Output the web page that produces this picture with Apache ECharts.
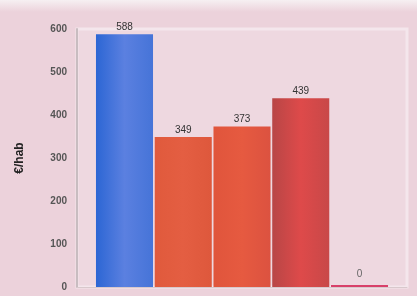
<!DOCTYPE html>
<html><head><meta charset="utf-8">
<script src="https://cdn.jsdelivr.net/npm/echarts@6/dist/echarts.min.js"></script>
<style>html,body{margin:0;padding:0;background:#ecd2db}#c{width:417px;height:296px}</style>
</head><body><div id="c"></div>
<script>
const categories = ['A'];
const values = [588, 349, 373, 439, 0];
const yTicks = [0, 100, 200, 300, 400, 500, 600];
const barColors = [
  ['#2c66d4', '#5b80e0', '#4674d8'],
  ['#e05a3c', '#e45e42', '#de583c'],
  ['#e0553c', '#e65a40', '#dc5240'],
  ['#b84646', '#de4a4a', '#c84848'],
  ['#d8406a', '#d8406a', '#d8406a']
];
function grad(c){return {type:'linear',x:0,y:0,x2:1,y2:0,colorStops:[{offset:0,color:c[0]},{offset:0.5,color:c[1]},{offset:1,color:c[2]}]};}
const chart = echarts.init(document.getElementById('c'));
chart.setOption({
  backgroundColor: {type:'linear',x:0,y:0,x2:0,y2:1,colorStops:[{offset:0,color:'#f6f0f2'},{offset:0.04,color:'#ecd2db'},{offset:1,color:'#ecd2db'}]},
  animation: false,
  grid: {left:77, right:10, top:29, bottom:9, show:true, backgroundColor:'#eed8e0', borderColor:'#f4e6ec', borderWidth:3},
  xAxis: {type:'category', data:categories, axisLabel:{show:false}, axisTick:{show:false}, axisLine:{lineStyle:{color:'#d8c8cc'}}},
  yAxis: {type:'value', min:0, max:600, interval:100, name:'€/hab', nameLocation:'middle', nameGap:51, nameRotate:90,
    nameTextStyle:{color:'#222', fontWeight:'bold', fontSize:12, fontFamily:'Liberation Sans'},
    axisLine:{show:true, lineStyle:{color:'#c8bcc0', width:2}}, axisTick:{show:false}, splitLine:{show:false},
    axisLabel:{color:'#555', fontSize:10, fontWeight:'bold', fontFamily:'Liberation Sans', margin:10,
      formatter: v => yTicks.includes(v) ? String(v) : ''}},
  series: values.map((v,i)=>({
    type:'bar', data:[v], barGap:'3%', barCategoryGap:'11.5%', barMinHeight: v===0?2:0,
    itemStyle:{color:grad(barColors[i])},
    label:{show:true, position:'top', distance:v===0?6:2, color: v===0?'#666':'#333', fontSize:10, fontFamily:'Liberation Sans'}
  }))
});
</script></body></html>
